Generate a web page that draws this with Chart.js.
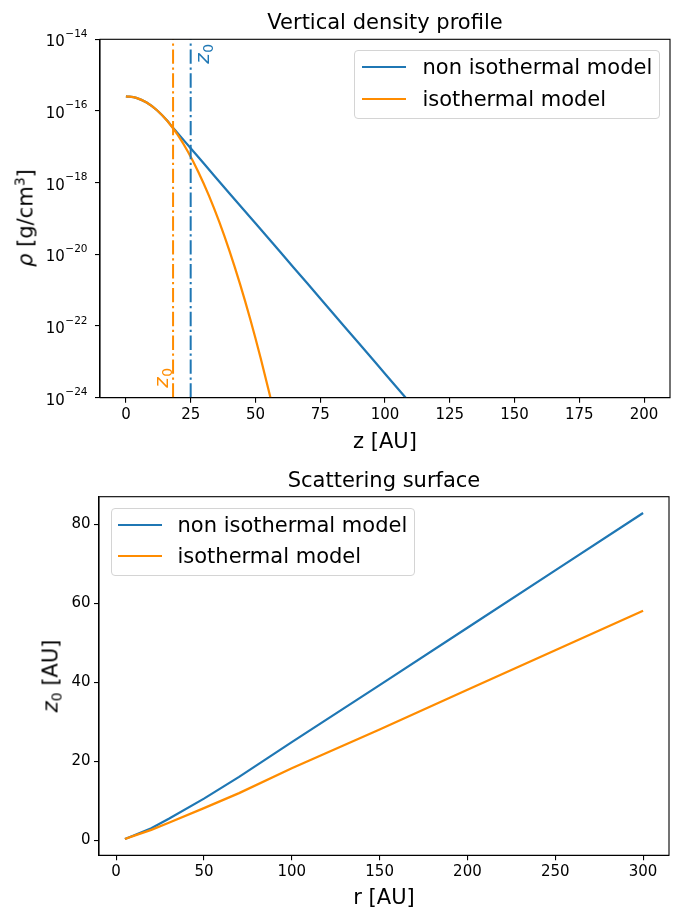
<!DOCTYPE html>
<html><head><meta charset="utf-8">
<script src="https://cdn.jsdelivr.net/npm/chart.js@4.4.0/dist/chart.umd.min.js"></script>
<style>
html,body{margin:0;padding:0;background:#fff;}
#wrap{position:relative;width:678px;height:908px;overflow:hidden;font-family:'DejaVu Sans',sans-serif;color:#000;background:#fff;}
canvas{position:absolute;left:0;}
.t{position:absolute;white-space:nowrap;font-size:21px;line-height:21px;transform:translate(-50%,-50%);}
.rot{transform:translate(-50%,-50%) rotate(-90deg);}
.legend{position:absolute;border:1px solid #d4d4d4;border-radius:4px;background:rgba(255,255,255,0.8);box-sizing:border-box;}
.lg-line{position:absolute;height:2px;}
.lg-text{position:absolute;font-size:21px;line-height:21px;white-space:nowrap;transform:translateY(-50%);}
</style></head>
<body><div id="wrap">
<canvas id="c1" width="678" height="460" style="top:0;width:678px;height:460px"></canvas>
<canvas id="c2" width="678" height="448" style="top:460px;width:678px;height:448px"></canvas>
<div class="t" style="left:385px;top:22px">Vertical density profile</div>
<div class="t" style="left:385px;top:441px">z [AU]</div>
<div class="t rot" style="left:26px;top:218px"><i>ρ</i> [g/cm<sup style="font-size:14px;line-height:0;vertical-align:8px">3</sup>]</div>
<div class="t" style="left:384px;top:480px">Scattering surface</div>
<div class="t" style="left:384px;top:897px">r [AU]</div>
<div class="t rot" style="left:51px;top:676px"><i>z</i><sub style="font-size:14px;line-height:0;vertical-align:-4px">0</sub> [AU]</div>
<div id="leg1" class="legend" style="left:354px;top:50px;width:306px;height:69px"></div>
<div id="leg2" class="legend" style="left:111px;top:508px;width:304px;height:68px"></div>
</div>
<script>
// ---- data: vertical density profile ----
const seriesNames = ['non isothermal model', 'isothermal model'];
const seriesColors = ['#1f77b4', '#ff8c00'];

const zNonIso = [0, 4, 8, 12, 16, 18, 20, 25, 30, 40, 50, 60, 70, 80, 90, 100, 110];
const rhoNonIso = [2.57e-16, 2.33e-16, 1.73e-16, 1.05e-16, 5.3e-17, 3.5e-17, 2.4e-17, 9.1e-18, 3.47e-18, 5.0e-19, 7.4e-20, 1.07e-20, 1.55e-21, 2.24e-22, 3.24e-23, 4.68e-24, 6.76e-25];

const zIso = [0, 4, 8, 12, 16, 20, 24, 28, 32, 36, 40, 44, 48, 52, 56, 58];
const rhoIso = [2.57e-16, 2.33e-16, 1.73e-16, 1.05e-16, 5.24e-17, 2.14e-17, 7.14e-18, 1.96e-18, 4.42e-19, 8.13e-20, 1.23e-20, 1.52e-21, 1.54e-22, 1.28e-23, 8.73e-25, 2.11e-25];

const z0Markers = [25.0, 18.2]; // non isothermal, isothermal

const xTicksTop = [0, 25, 50, 75, 100, 125, 150, 175, 200];
const yTicksTop = [1e-24, 1e-22, 1e-20, 1e-18, 1e-16, 1e-14];
const yTickExpTop = ['−24', '−22', '−20', '−18', '−16', '−14'];

// ---- data: scattering surface ----
const rValues = [5, 10, 20, 30, 50, 70, 100, 150, 200, 250, 300];
const z0NonIso = [0.4, 1.3, 3.1, 5.5, 10.6, 16.1, 24.9, 39.3, 53.8, 68.3, 82.8];
const z0Iso = [0.4, 1.2, 2.7, 4.5, 8.2, 12.0, 18.3, 28.1, 38.1, 48.1, 58.1];

const xTicksBottom = [0, 50, 100, 150, 200, 250, 300];
const yTicksBottom = [0, 20, 40, 60, 80];

// ---- helpers ----
const FONT = "'DejaVu Sans', sans-serif";
Chart.defaults.font.family = FONT;
Chart.defaults.color = '#000';

const pts = (xs, ys) => xs.map((x, i) => ({x: x, y: ys[i]}));

const framePlugin = {
  id: 'frame',
  afterDraw(chart) {
    const a = chart.chartArea, ctx = chart.ctx;
    ctx.save();
    ctx.strokeStyle = '#000';
    ctx.lineWidth = 1.1;
    ctx.strokeRect(a.left, a.top, a.right - a.left, a.bottom - a.top);
    ctx.restore();
  }
};

const logLabelPlugin = {
  id: 'logLabels',
  afterDraw(chart) {
    const ctx = chart.ctx, y = chart.scales.y, a = chart.chartArea;
    ctx.save();
    ctx.fillStyle = '#000';
    ctx.textAlign = 'right';
    ctx.textBaseline = 'alphabetic';
    yTicksTop.forEach((v, i) => {
      const py = y.getPixelForValue(v);
      const right = a.left - 12.5;
      ctx.font = '10.5px ' + FONT;
      const ew = ctx.measureText(yTickExpTop[i]).width;
      ctx.fillText(yTickExpTop[i], right, py - 2.5);
      ctx.font = '15px ' + FONT;
      ctx.fillText('10', right - ew - 0.5, py + 7);
    });
    ctx.restore();
  }
};

const z0LabelPlugin = {
  id: 'z0Labels',
  afterDraw(chart) {
    const ctx = chart.ctx, x = chart.scales.x, a = chart.chartArea;
    const specs = [
      {v: z0Markers[0], color: seriesColors[0], dx: 18, y: a.top + 24.5},
      {v: z0Markers[1], color: seriesColors[1], dx: -5.5, y: a.bottom - 10}
    ];
    ctx.save();
    specs.forEach(s => {
      const px = x.getPixelForValue(s.v) + s.dx;
      ctx.save();
      ctx.translate(px, s.y);
      ctx.rotate(-Math.PI / 2);
      ctx.fillStyle = s.color;
      ctx.textAlign = 'left';
      ctx.textBaseline = 'alphabetic';
      ctx.font = 'italic 20px ' + FONT;
      ctx.fillText('z', 0, 0);
      const w = ctx.measureText('z').width;
      ctx.font = '14px ' + FONT;
      ctx.fillText('0', w + 0.5, 4);
      ctx.restore();
    });
    ctx.restore();
  }
};

const axisGrid = {display: true, drawOnChartArea: false, drawTicks: true, tickLength: 5, color: '#000', lineWidth: 1.1};
const axisBorder = {display: true, color: '#000', width: 1.1};

const vDash = [14.4, 3.6, 2.25, 3.6];

// ---- top chart ----
new Chart(document.getElementById('c1'), {
  type: 'line',
  data: {
    datasets: [
      {label: seriesNames[0], data: pts(zNonIso, rhoNonIso), borderColor: seriesColors[0], borderWidth: 2.25, pointRadius: 0, cubicInterpolationMode: 'monotone', order: 2},
      {label: seriesNames[1], data: pts(zIso, rhoIso), borderColor: seriesColors[1], borderWidth: 2.25, pointRadius: 0, cubicInterpolationMode: 'monotone', order: 1},
      {label: 'z0a', data: [{x: z0Markers[0], y: yTicksTop[0]}, {x: z0Markers[0], y: yTicksTop[yTicksTop.length - 1]}], borderColor: seriesColors[0], borderWidth: 2, borderDash: vDash, pointRadius: 0, order: 0},
      {label: 'z0b', data: [{x: z0Markers[1], y: yTicksTop[0]}, {x: z0Markers[1], y: yTicksTop[yTicksTop.length - 1]}], borderColor: seriesColors[1], borderWidth: 2, borderDash: vDash, pointRadius: 0, order: 0}
    ]
  },
  options: {
    responsive: false, animation: false, devicePixelRatio: 1,
    layout: {padding: {left: 0, right: 8, top: 39.3, bottom: 0}},
    plugins: {legend: {display: false}, tooltip: {enabled: false}, title: {display: false}},
    scales: {
      x: {
        type: 'linear', min: -10, max: 210,
        afterBuildTicks: s => { s.ticks = xTicksTop.map(v => ({value: v})); },
        afterFit: s => { s.height = 62.3; },
        grid: axisGrid, border: axisBorder,
        ticks: {color: '#000', font: {size: 15}, padding: 3, maxRotation: 0, autoSkip: false, callback: v => String(v)}
      },
      y: {
        type: 'logarithmic', min: yTicksTop[0], max: yTicksTop[yTicksTop.length - 1],
        afterBuildTicks: s => { s.ticks = yTicksTop.map(v => ({value: v})); },
        afterFit: s => { s.width = 100; },
        grid: axisGrid, border: axisBorder,
        ticks: {autoSkip: false, callback: () => ''}
      }
    }
  },
  plugins: [framePlugin, logLabelPlugin, z0LabelPlugin]
});

// ---- bottom chart ----
new Chart(document.getElementById('c2'), {
  type: 'line',
  data: {
    datasets: [
      {label: seriesNames[0], data: pts(rValues, z0NonIso), borderColor: seriesColors[0], borderWidth: 2.25, pointRadius: 0, order: 2},
      {label: seriesNames[1], data: pts(rValues, z0Iso), borderColor: seriesColors[1], borderWidth: 2.25, pointRadius: 0, order: 1}
    ]
  },
  options: {
    responsive: false, animation: false, devicePixelRatio: 1,
    layout: {padding: {left: 0, right: 9, top: 36.7, bottom: 0}},
    plugins: {legend: {display: false}, tooltip: {enabled: false}, title: {display: false}},
    scales: {
      x: {
        type: 'linear', min: -9.75, max: 314.75,
        afterBuildTicks: s => { s.ticks = xTicksBottom.map(v => ({value: v})); },
        afterFit: s => { s.height = 52.7; },
        grid: axisGrid, border: axisBorder,
        ticks: {color: '#000', font: {size: 15}, padding: 3, maxRotation: 0, autoSkip: false, callback: v => String(v)}
      },
      y: {
        type: 'linear', min: -3.72, max: 86.92,
        afterBuildTicks: s => { s.ticks = yTicksBottom.map(v => ({value: v})); },
        afterFit: s => { s.width = 99; },
        grid: axisGrid, border: axisBorder,
        ticks: {color: '#000', font: {size: 15}, padding: 3.5, autoSkip: false, callback: v => String(v)}
      }
    }
  },
  plugins: [framePlugin]
});

// ---- legends (HTML text) ----
function buildLegend(id, lineLeft, textLeft, rowY) {
  const el = document.getElementById(id);
  seriesNames.forEach((name, i) => {
    const ln = document.createElement('div');
    ln.className = 'lg-line';
    ln.style.left = lineLeft + 'px';
    ln.style.width = '44px';
    ln.style.top = (rowY[i] - 1) + 'px';
    ln.style.background = seriesColors[i];
    el.appendChild(ln);
    const tx = document.createElement('div');
    tx.className = 'lg-text';
    tx.style.left = textLeft + 'px';
    tx.style.top = rowY[i] + 'px';
    tx.textContent = name;
    el.appendChild(tx);
  });
}
buildLegend('leg1', 7, 67.5, [16, 47.5]);
buildLegend('leg2', 5.5, 65.5, [15.5, 47]);
</script>
</body></html>
